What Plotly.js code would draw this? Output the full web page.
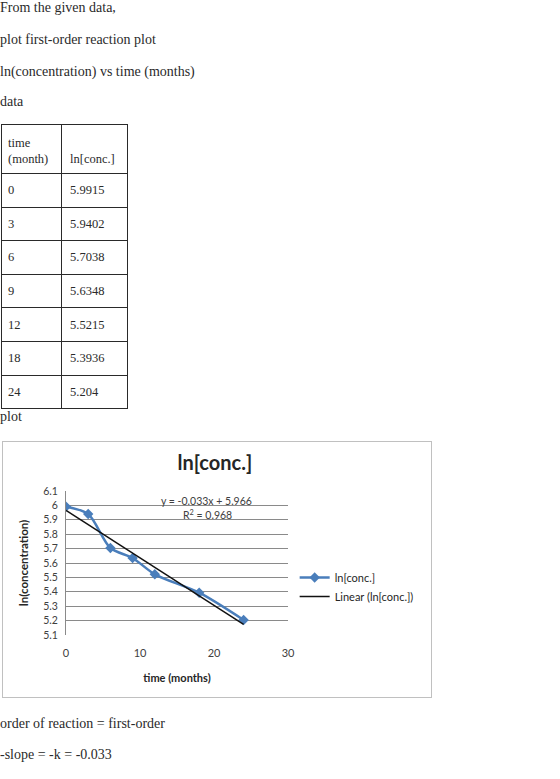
<!DOCTYPE html>
<html>
<head>
<meta charset="utf-8">
<script src="https://cdn.plot.ly/plotly-3.0.1.min.js"></script>
<style>
  html, body { margin: 0; padding: 0; background: #fff; }
  body { width: 560px; height: 779px; position: relative; overflow: hidden;
         font-family: "Liberation Serif", "Times New Roman", serif; color: #2a2a2a; }
  .t { position: absolute; left: 0; font-size: 14px; line-height: 16px; white-space: nowrap;
       font-family: "Liberation Serif", serif; }
  #tbl { position: absolute; left: 1px; top: 124px; border-collapse: collapse; table-layout: fixed;
         font-size: 12.5px; font-family: "Liberation Serif", serif; }
  #tbl td { border: 1px solid #2a2a2a; padding: 0; line-height: 16px; white-space: nowrap; }
  #tbl td.c1 { padding-left: 6px; }
  #tbl td.c2 { padding-left: 8px; }
  #tbl tr.h td { vertical-align: bottom; padding-bottom: 6px; }
  #tbl tr.r td { vertical-align: middle; }
  #chart { position: absolute; left: 2px; top: 441px; width: 430px; height: 257px; }
  #frame { position: absolute; left: 2px; top: 441px; width: 430px; height: 257px;
           box-sizing: border-box; border: 1.5px solid #c0c0c0; pointer-events: none; }
</style>
</head>
<body>
<div class="t" style="top:0px">From the given data,</div>
<div class="t" style="top:32px">plot first-order reaction plot</div>
<div class="t" style="top:64px">ln(concentration) vs time (months)</div>
<div class="t" style="top:94px">data</div>
<table id="tbl"></table>
<div class="t" style="top:409px">plot</div>
<div id="chart"></div>
<div id="frame"></div>
<div class="t" style="top:716px">order of reaction = first-order</div>
<div class="t" style="top:747px">-slope = -k = -0.033</div>

<script>
// ---- data ----
var timeMonths = [0, 3, 6, 9, 12, 18, 24];
var lnConcText = ["5.9915", "5.9402", "5.7038", "5.6348", "5.5215", "5.3936", "5.204"];
var lnConc = [5.9915, 5.9402, 5.7038, 5.6348, 5.5215, 5.3936, 5.204];
var tableHeaders = ["time<br>(month)", "ln[conc.]"];
var seriesName = "ln[conc.]";
var trendName = "Linear (ln[conc.])";
var xTickVals = [0, 10, 20, 30];
// trendline as labelled on the chart
var trendSlope = -0.033;
var trendIntercept = 5.966;
var trendR2 = 0.968;

// ---- table ----
(function () {
  var tbl = document.getElementById('tbl');
  var colW = [60, 66];
  var html = '<colgroup><col style="width:' + colW[0] + 'px"><col style="width:' + colW[1] + 'px"></colgroup>';
  html += '<tr class="h" style="height:49px"><td class="c1">' + tableHeaders[0] + '</td><td class="c2">' + tableHeaders[1] + '</td></tr>';
  for (var i = 0; i < timeMonths.length; i++) {
    html += '<tr class="r" style="height:33.6px"><td class="c1">' + timeMonths[i] + '</td><td class="c2">' + lnConcText[i] + '</td></tr>';
  }
  tbl.innerHTML = html;
})();

var n = timeMonths.length;
var xMin = timeMonths[0], xMax = timeMonths[n - 1];
var trendX = [xMin, xMax];
var trendY = [trendIntercept + trendSlope * xMin, trendIntercept + trendSlope * xMax];

var font = 'Lato, "Open Sans", sans-serif';
var blue = '#4A7EBB';

var traces = [
  {
    x: timeMonths, y: lnConc, name: seriesName, type: 'scatter', mode: 'lines+markers',
    line: { color: blue, width: 2.5, shape: 'spline', smoothing: 0.8 },
    marker: { symbol: 'diamond', size: 8, color: blue }
  },
  {
    x: trendX, y: trendY, name: trendName, type: 'scatter', mode: 'lines',
    line: { color: '#111', width: 1.5 }
  }
];

var layout = {
  width: 430, height: 257,
  margin: { l: 64, r: 144, t: 50, b: 63 },
  paper_bgcolor: '#fff', plot_bgcolor: '#fff',
  font: { family: font, color: '#404040', size: 11 },
  title: {
    text: '<b>ln[conc.]</b>', xref: 'container', yref: 'container',
    x: 0.495, xanchor: 'center', y: 0.914, yanchor: 'middle',
    font: { family: font, size: 20, color: '#262626' }
  },
  xaxis: {
    range: [0, 30], tickvals: xTickVals, showgrid: false, zeroline: false,
    showline: false, ticks: '', ticklabelstandoff: 10,
    tickfont: { family: font, size: 11, color: '#404040' },
    title: { text: '<b>time (months)</b>', standoff: 16, font: { family: font, size: 11, color: '#262626' } }
  },
  yaxis: {
    range: [5.1, 6.1], dtick: 0.1, tick0: 5.1, showgrid: true, gridcolor: '#8a8a8a', gridwidth: 1,
    zeroline: false, showline: true, linecolor: '#8a8a8a', linewidth: 1, ticks: '',
    ticklabelstandoff: 5,
    tickfont: { family: font, size: 10.5, color: '#404040' },
    title: { text: '<b>ln(concentration)</b>', standoff: 12, font: { family: font, size: 11.5, color: '#262626' } }
  },
  showlegend: true,
  legend: {
    x: 1.03, xanchor: 'left', y: 0.5, yanchor: 'top',
    font: { family: font, size: 11, color: '#262626' },
    bgcolor: 'rgba(0,0,0,0)', itemwidth: 30, tracegroupgap: 0
  },
  annotations: [
    {
      x: 19.05, y: 6.031, xref: 'x', yref: 'y', showarrow: false,
      text: 'y = ' + trendSlope.toFixed(3) + 'x + ' + trendIntercept.toFixed(3),
      font: { family: font, size: 10.5, color: '#404040' }
    },
    {
      x: 19.1, y: 5.94, xref: 'x', yref: 'y', showarrow: false,
      text: 'R<sup>2</sup> = ' + trendR2.toFixed(3),
      font: { family: font, size: 10.5, color: '#404040' }
    }
  ]
};

Plotly.newPlot('chart', traces, layout, { displayModeBar: false, staticPlot: true });
</script>
</body>
</html>
